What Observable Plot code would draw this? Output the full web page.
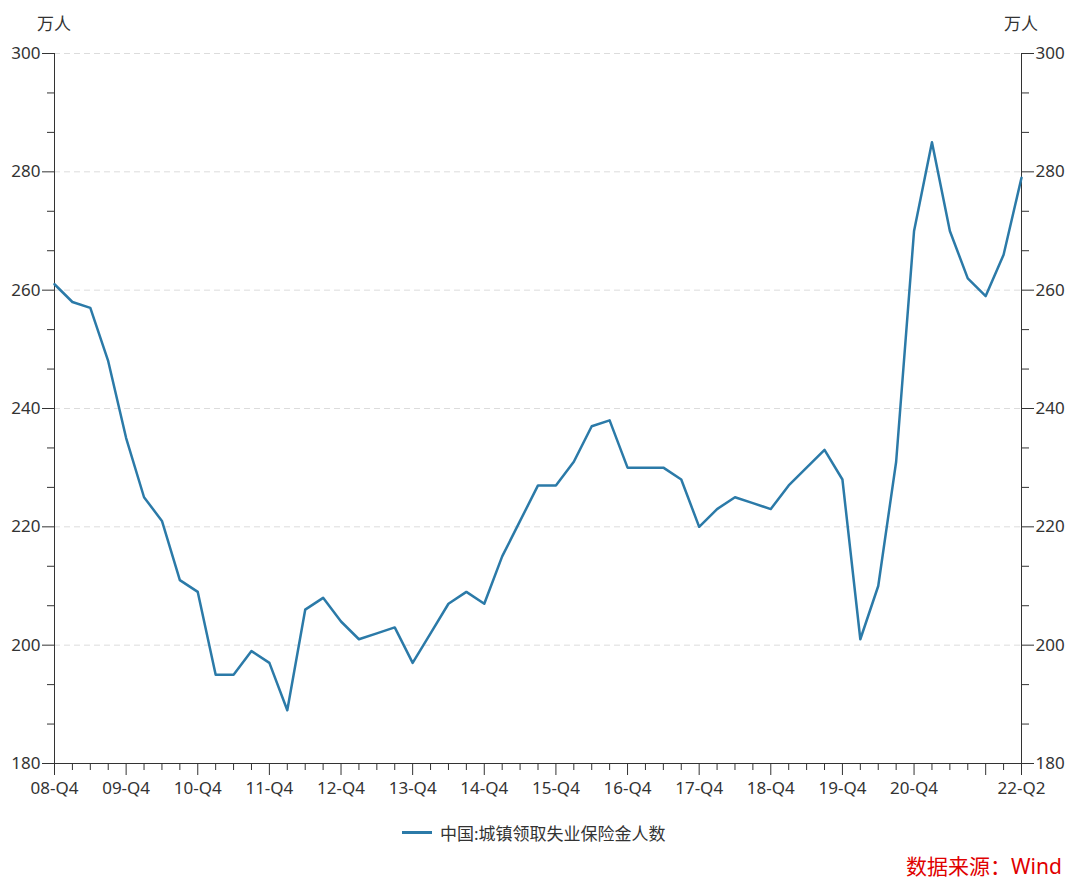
<!DOCTYPE html>
<html>
<head>
<meta charset="utf-8">
<script src="https://cdn.jsdelivr.net/npm/d3@7"></script>
<script src="https://cdn.jsdelivr.net/npm/@observablehq/plot@0.6"></script>
<style>
  body { margin: 0; background: #fff; }
  #chart { position: relative; width: 1080px; height: 883px; color: #333;
    font-family: "Noto Sans", "Noto Sans CJK SC", sans-serif; }
  .unit { position: absolute; top: 10px; width: 60px; margin-left: -30px; text-align: center; font-size: 17px; }
  .legend { position: absolute; left: 402px; top: 820px; font-size: 17px; display: flex; align-items: center; }
  .legend span.sw { display: inline-block; width: 30px; height: 3px; background: #2b7aa8; margin-right: 8px; }
  .source { position: absolute; left: 906px; top: 850px; font-size: 21px; color: #e00000; }
</style>
</head>
<body>
<div id="chart"></div>
<script>
// 中国:城镇领取失业保险金人数 (万人), 08-Q4 ... 22-Q2
const values = [261, 258, 257, 248, 235, 225, 221, 211, 209, 195,
                195, 199, 197, 189, 206, 208, 204, 201, 202, 203,
                197, 202, 207, 209, 207, 215, 221, 227, 227, 231,
                237, 238, 230, 230, 230, 228, 220, 223, 225, 224,
                223, 227, 230, 233, 228, 201, 210, 231, 270, 285,
                270, 262, 259, 266, 279];

const quarters = [];
for (let k = 0; k < values.length; k++) {
  const q = (3 + k) % 4 + 1;
  const yr = 8 + Math.floor((3 + k) / 4);
  quarters.push(`${String(yr).padStart(2, "0")}-Q${q}`);
}
const hiddenLabels = ["21-Q4"];
const seriesName = "中国:城镇领取失业保险金人数";

const rows = values.map((v, i) => ({i, quarter: quarters[i], v}));
const last = values.length - 1;

const yMajor = d3.range(180, 301, 20);
const yMinor = d3.range(0, 19).filter(k => k % 3).map(k => 180 + k * 20 / 3);
const xMajor = d3.range(0, values.length).filter(i => quarters[i].endsWith("Q4") || i === last);
const xMinor = d3.range(0, values.length).filter(i => !xMajor.includes(i));
const xLabel = i => hiddenLabels.includes(quarters[i]) ? "" : quarters[i];

const plot = Plot.plot({
  width: 1080,
  height: 883,
  marginLeft: 54,
  marginRight: 59,
  marginTop: 53,
  marginBottom: 120,
  style: {fontFamily: '"Noto Sans", "Noto Sans CJK SC", sans-serif', fontSize: "17px", color: "#333", overflow: "visible"},
  x: {domain: [0, last], label: null},
  y: {domain: [180, 300], label: null},
  marks: [
    Plot.ruleY(yMajor.filter(v => v > 180), {stroke: "#dcdcdc", strokeDasharray: "6,4"}),
    Plot.ruleX([0, last], {stroke: "#333"}),
    Plot.ruleY([180], {stroke: "#333"}),
    Plot.axisY({anchor: "left", ticks: yMajor, tickSize: 12, tickPadding: 2, fontSize: 17}),
    Plot.axisY({anchor: "left", ticks: yMinor, tickSize: 7, tickFormat: () => ""}),
    Plot.axisY({anchor: "right", ticks: yMajor, tickSize: 12, tickPadding: 2, fontSize: 17}),
    Plot.axisY({anchor: "right", ticks: yMinor, tickSize: 7, tickFormat: () => ""}),
    Plot.axisX({ticks: xMajor, tickSize: 12, tickPadding: 6, tickFormat: xLabel, fontSize: 17}),
    Plot.axisX({ticks: xMinor, tickSize: 7, tickFormat: () => ""}),
    Plot.line(rows, {x: "i", y: "v", stroke: "#2b7aa8", strokeWidth: 2.5})
  ]
});

const el = document.querySelector("#chart");
el.append(plot);
el.insertAdjacentHTML("beforeend", `
  <div class="unit" style="left:54px">万人</div>
  <div class="unit" style="left:1021px">万人</div>
  <div class="legend"><span class="sw"></span>${seriesName}</div>
  <div class="source">数据来源：Wind</div>
`);
</script>
</body>
</html>
